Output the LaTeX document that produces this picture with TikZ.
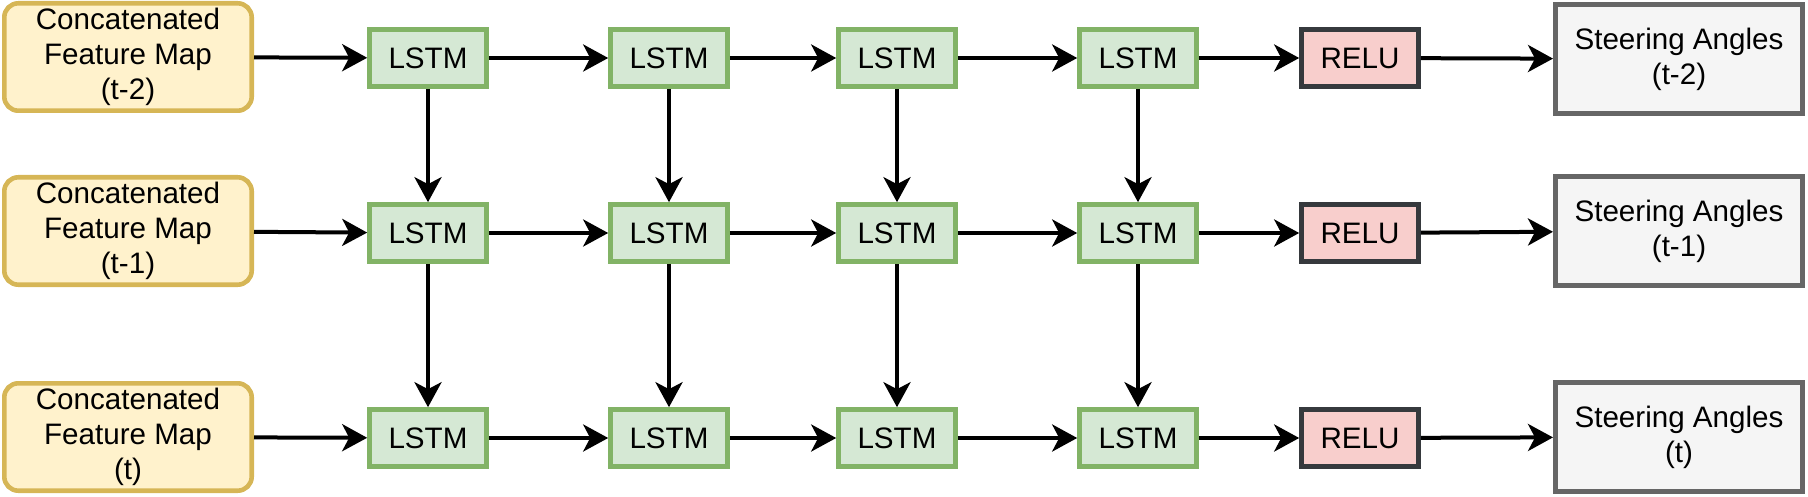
\documentclass[tikz,border=0pt]{standalone}
\usepackage{fontspec}
\setmainfont{Liberation Sans}
\usepackage{xcolor}
\usetikzlibrary{arrows.meta}

\definecolor{featFill}{HTML}{FFF2CC}
\definecolor{featLine}{HTML}{D6B656}
\definecolor{lstmFill}{HTML}{D5E8D4}
\definecolor{lstmLine}{HTML}{82B366}
\definecolor{reluFill}{HTML}{F8CECC}
\definecolor{reluLine}{HTML}{36393D}
\definecolor{outFill}{HTML}{F5F5F5}
\definecolor{outLine}{HTML}{666666}

\begin{document}
\begin{tikzpicture}[x=0.5pt, y=-0.5pt,
    font=\fontsize{14.8pt}{17.6pt}\selectfont,
    feature/.style={draw=featLine, fill=featFill, line width=2.3pt, rounded corners=7pt,
        minimum width=123.7pt, minimum height=53.7pt, align=center, inner sep=0pt},
    lstm/.style={draw=lstmLine, fill=lstmFill, line width=2.3pt,
        minimum width=58.5pt, minimum height=28.5pt, inner sep=0pt},
    relu/.style={draw=reluLine, fill=reluFill, line width=2.3pt,
        minimum width=58.5pt, minimum height=28.5pt, inner sep=0pt},
    steer/.style={draw=outLine, fill=outFill, line width=2.3pt,
        minimum width=123.7pt, minimum height=54.7pt, align=center, inner sep=0pt},
    flow/.style={-{Stealth[length=12.5pt, width=13.5pt, inset=3.5pt]}, line width=2pt}]
        \useasboundingbox (0,0) rectangle (1808,497);
        % inputs
        \node[feature] (F1) at (128, 57) {Concatenated\\Feature Map\\(t-2)};
        \node[feature] (F2) at (128, 231) {Concatenated\\Feature Map\\(t-1)};
        \node[feature] (F3) at (128, 437) {Concatenated\\Feature Map\\(t)};
        % lstm grid
        \node[lstm] (L11) at (428, 58) {LSTM};
        \node[lstm] (L12) at (669, 58) {LSTM};
        \node[lstm] (L13) at (897, 58) {LSTM};
        \node[lstm] (L14) at (1138, 58) {LSTM};
        \node[lstm] (L21) at (428, 233) {LSTM};
        \node[lstm] (L22) at (669, 233) {LSTM};
        \node[lstm] (L23) at (897, 233) {LSTM};
        \node[lstm] (L24) at (1138, 233) {LSTM};
        \node[lstm] (L31) at (428, 438) {LSTM};
        \node[lstm] (L32) at (669, 438) {LSTM};
        \node[lstm] (L33) at (897, 438) {LSTM};
        \node[lstm] (L34) at (1138, 438) {LSTM};
        % activation and outputs
        \node[relu] (R1) at (1360, 58) {RELU};
        \node[relu] (R2) at (1360, 233) {RELU};
        \node[relu] (R3) at (1360, 438) {RELU};
        \node[steer] (S1) at (1679, 59) {Steering Angles\\(t-2)};
        \node[steer] (S2) at (1679, 231) {Steering Angles\\(t-1)};
        \node[steer] (S3) at (1679, 437) {Steering Angles\\(t)};
        % rows
        \draw[flow] (F1) -- (L11);
        \draw[flow] (L11) -- (L12);
        \draw[flow] (L12) -- (L13);
        \draw[flow] (L13) -- (L14);
        \draw[flow] (L14) -- (R1);
        \draw[flow] (R1) -- (S1);
        \draw[flow] (F2) -- (L21);
        \draw[flow] (L21) -- (L22);
        \draw[flow] (L22) -- (L23);
        \draw[flow] (L23) -- (L24);
        \draw[flow] (L24) -- (R2);
        \draw[flow] (R2) -- (S2);
        \draw[flow] (F3) -- (L31);
        \draw[flow] (L31) -- (L32);
        \draw[flow] (L32) -- (L33);
        \draw[flow] (L33) -- (L34);
        \draw[flow] (L34) -- (R3);
        \draw[flow] (R3) -- (S3);
        % columns
        \draw[flow] (L11) -- (L21);
        \draw[flow] (L12) -- (L22);
        \draw[flow] (L13) -- (L23);
        \draw[flow] (L14) -- (L24);
        \draw[flow] (L21) -- (L31);
        \draw[flow] (L22) -- (L32);
        \draw[flow] (L23) -- (L33);
        \draw[flow] (L24) -- (L34);
\end{tikzpicture}
\end{document}
